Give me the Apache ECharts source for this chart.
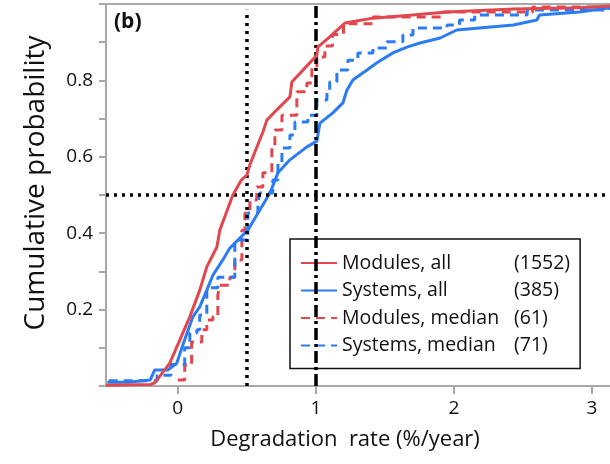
<!DOCTYPE html>
<html>
<head>
<meta charset="utf-8">
<script src="https://cdn.jsdelivr.net/npm/echarts@6/dist/echarts.min.js"></script>
<style>html,body{margin:0;padding:0;background:#fff}#c{width:610px;height:464px}</style>
</head>
<body>
<div id="c"></div>
<script>
// Legend labels and counts
var seriesNames = ['Modules, all', 'Systems, all', 'Modules, median', 'Systems, median'];
var seriesCounts = ['(1552)', '(385)', '(61)', '(71)'];
// x tick labels and y tick labels
var xTicks = [0, 1, 2, 3];
var yLabels = [0.2, 0.4, 0.6, 0.8];
// Reference lines
var refX1 = 0.5, refX2 = 1.0, refY = 0.5;

// [degradation rate, cumulative probability]
var modulesAll = [[-0.52,0.002],[-0.2,0.004],[-0.167,0.008],[-0.058,0.06],[0.014,0.12],[0.087,0.181],[0.159,0.251],[0.21,0.312],[0.283,0.364],[0.304,0.408],[0.399,0.5],[0.46,0.539],[0.5,0.552],[0.522,0.579],[0.616,0.665],[0.645,0.696],[0.717,0.723],[0.812,0.757],[0.826,0.796],[0.935,0.838],[1.007,0.866],[1.014,0.887],[1.1,0.914],[1.21,0.95],[1.413,0.963],[1.7,0.971],[1.95,0.979],[2.43,0.987],[2.91,0.99],[3.13,0.995]];
var systemsAll = [[-0.51,0.01],[-0.36,0.01],[-0.2,0.016],[-0.167,0.042],[-0.072,0.042],[-0.007,0.06],[0.036,0.107],[0.109,0.181],[0.159,0.207],[0.21,0.251],[0.254,0.29],[0.326,0.33],[0.377,0.361],[0.507,0.408],[0.594,0.461],[0.667,0.505],[0.725,0.558],[0.812,0.592],[0.935,0.626],[1.007,0.641],[1.029,0.688],[1.123,0.715],[1.196,0.741],[1.225,0.775],[1.268,0.801],[1.37,0.827],[1.442,0.846],[1.558,0.872],[1.659,0.887],[1.754,0.898],[1.9,0.911],[2.02,0.932],[2.43,0.945],[2.6,0.958],[2.62,0.971],[2.91,0.979],[3.13,0.99]];
var modulesMedian = [[0.0,0.016],[0.05,0.055],[0.1,0.115],[0.174,0.147],[0.21,0.173],[0.254,0.181],[0.29,0.238],[0.304,0.264],[0.377,0.285],[0.413,0.33],[0.464,0.408],[0.486,0.453],[0.522,0.487],[0.572,0.521],[0.616,0.558],[0.681,0.626],[0.703,0.67],[0.754,0.709],[0.862,0.77],[0.935,0.793],[0.971,0.832],[1.007,0.861],[1.065,0.89],[1.12,0.92],[1.2,0.948],[1.413,0.966],[1.92,0.979],[2.57,0.992],[3.13,1.0]];
var systemsMedian = [[-0.5,0.014],[-0.15,0.028],[-0.05,0.056],[0.05,0.1],[0.087,0.139],[0.138,0.147],[0.159,0.186],[0.21,0.257],[0.29,0.285],[0.413,0.382],[0.507,0.453],[0.58,0.482],[0.594,0.505],[0.688,0.539],[0.725,0.584],[0.754,0.623],[0.812,0.657],[0.848,0.691],[0.942,0.709],[1.007,0.749],[1.08,0.767],[1.1,0.796],[1.152,0.827],[1.232,0.853],[1.304,0.872],[1.413,0.885],[1.514,0.901],[1.63,0.919],[1.703,0.937],[1.95,0.945],[2.04,0.958],[2.15,0.971],[2.42,0.971],[2.53,0.984],[3.13,0.995]];

var RED = '#e2474e', BLUE = '#2b7cf3';
var FONT = 'Open Sans';
var chart = echarts.init(document.getElementById('c'), null, {renderer: 'canvas'});

function fmtLegend(name) {
  var i = seriesNames.indexOf(name);
  return '{n|' + name + '}{c|' + seriesCounts[i] + '}';
}

var option = {
  animation: false,
  backgroundColor: '#fff',
  textStyle: {fontFamily: FONT},
  title: {text: '(b)', left: 109, top: 7, textStyle: {fontSize: 21, fontWeight: 'bold', color: '#111', fontFamily: FONT}},
  grid: {left: 106, top: 4, right: 0, bottom: 78, containLabel: false},
  legend: {
    orient: 'vertical', left: 290, top: 239,
    backgroundColor: '#fff', borderColor: '#111', borderWidth: 1.5, borderRadius: 0,
    padding: [14, 10, 13, 10], itemGap: 7.5, itemWidth: 36, itemHeight: 14,
    itemStyle: {opacity: 0},
    data: seriesNames,
    formatter: fmtLegend,
    textStyle: {fontFamily: FONT, fontSize: 19.5, color: '#111', rich: {n: {width: 172, fontSize: 19.5, fontFamily: FONT, color: '#111'}, c: {fontSize: 19.5, fontFamily: FONT, color: '#111'}}}
  },
  xAxis: [{
    type: 'value', min: -0.52, max: 3.13,
    name: 'Degradation  rate (%/year)', nameLocation: 'middle', nameGap: 43,
    nameTextStyle: {fontSize: 22, color: '#111', fontFamily: FONT, padding: [0, 26, 0, 0]},
    axisLine: {show: true, onZero: false, lineStyle: {color: '#a8a8a8', width: 2}},
    axisTick: {show: true, customValues: xTicks, length: 8, lineStyle: {color: '#a8a8a8', width: 2}},
    axisLabel: {customValues: xTicks, margin: 13, fontSize: 19, color: '#111', fontFamily: FONT},
    splitLine: {show: false}
  }, {
    type: 'value', position: 'top', min: -0.52, max: 3.13,
    axisLine: {show: true, onZero: false, lineStyle: {color: '#a8a8a8', width: 2}},
    axisTick: {show: false}, axisLabel: {show: false}, splitLine: {show: false}
  }],
  yAxis: {
    type: 'value', min: 0, max: 1, interval: 0.1,
    name: 'Cumulative probability', nameLocation: 'middle', nameGap: 56,
    nameTextStyle: {fontSize: 28, color: '#111', fontFamily: FONT, padding: [0, 0, 0, 24]},
    axisLine: {show: true, onZero: false, lineStyle: {color: '#a8a8a8', width: 2}},
    axisTick: {show: true, length: 7, lineStyle: {color: '#a8a8a8', width: 2}},
    axisLabel: {margin: 13, fontSize: 19, color: '#111', fontFamily: FONT,
      formatter: function (v) {
        for (var i = 0; i < yLabels.length; i++) if (Math.abs(v - yLabels[i]) < 1e-6) return yLabels[i].toFixed(1);
        return '';
      }},
    splitLine: {show: false}
  },
  series: [
    {name: seriesNames[2], type: 'line', data: modulesMedian, step: 'end', showSymbol: false, symbol: 'none', z: 3,
      lineStyle: {color: RED, width: 3, type: [9, 6]}, itemStyle: {color: RED}},
    {name: seriesNames[3], type: 'line', data: systemsMedian, step: 'end', showSymbol: false, symbol: 'none', z: 3,
      lineStyle: {color: BLUE, width: 3, type: [9, 6]}, itemStyle: {color: BLUE}},
    {name: seriesNames[1], type: 'line', data: systemsAll, showSymbol: false, symbol: 'none', z: 4,
      lineStyle: {color: BLUE, width: 3}, itemStyle: {color: BLUE}},
    {name: seriesNames[0], type: 'line', data: modulesAll, showSymbol: false, symbol: 'none', z: 5,
      lineStyle: {color: RED, width: 3}, itemStyle: {color: RED}},
    {name: 'ref', type: 'line', data: [[refX1, refY]], symbol: 'none', showSymbol: false, lineStyle: {opacity: 0}, z: 6,
      markLine: {
        silent: true, symbol: ['none', 'none'], label: {show: false}, animation: false,
        data: [
          [{coord: [refX1, 0], lineStyle: {type: [3, 5], width: 3.5, color: '#000'}}, {coord: [refX1, 0.985]}],
          [{coord: [refX2, 0], lineStyle: {type: [12, 4, 3, 4], width: 3.5, color: '#000'}}, {coord: [refX2, 1]}],
          [{coord: [-0.52, refY], lineStyle: {type: [3, 5], width: 3.5, color: '#000'}}, {coord: [3.13, refY]}]
        ]
      }}
  ]
};
chart.setOption(option);
</script>
</body>
</html>
